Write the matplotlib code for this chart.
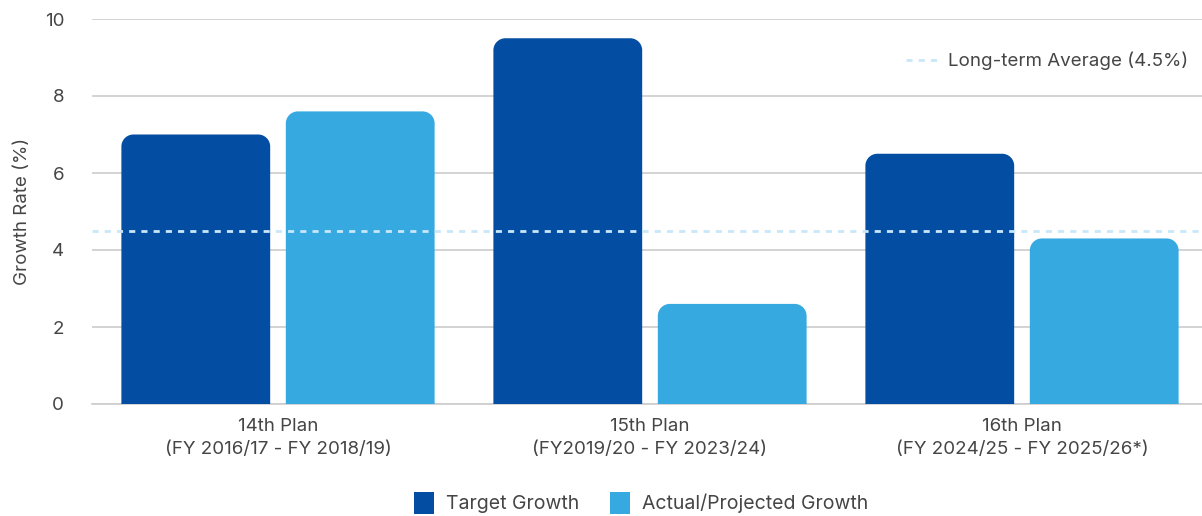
import matplotlib
matplotlib.use("Agg")
import matplotlib.pyplot as plt
from matplotlib.path import Path
from matplotlib.patches import PathPatch
from matplotlib.lines import Line2D
from matplotlib.patches import Patch
import numpy as np

# Data
plans = ["14th Plan\n(FY 2016/17 - FY 2018/19)",
         "15th Plan\n(FY2019/20 - FY 2023/24)",
         "16th Plan\n(FY 2024/25 - FY 2025/26*)"]
target_growth = [7.0, 9.5, 6.5]
actual_growth = [7.6, 2.6, 4.3]
long_term_avg = 4.5

C_TARGET = "#034EA2"
C_ACTUAL = "#36A9E1"
C_AVG = "#C9E7F8"
C_TEXT = "#454545"
C_GRID = "#CCCCCC"
FS = 13.5

plt.rcParams["font.family"] = ["Inter", "DejaVu Sans"]

W, H, DPI = 1202, 516, 100
fig = plt.figure(figsize=(W / DPI, H / DPI), dpi=DPI)
ax_left, ax_right, ax_top, ax_bot = 92, 1208, 19, 404
ax = fig.add_axes([ax_left / W, 1 - ax_bot / H, (ax_right - ax_left) / W, (ax_bot - ax_top) / H])

ax.set_xlim(-0.5, 2.5)
ax.set_ylim(0, 10)

x = np.arange(len(plans))
bw = 0.40
off = 0.221

# pixel scale for rounded corners
px_per_x = (ax_right - ax_left) / 3.0
px_per_y = (ax_bot - ax_top) / 10.0
r_px = 12
rx, ry = r_px / px_per_x, r_px / px_per_y
k = 0.5523


def rounded_bar(x0, w, h, color):
    x1 = x0 + w
    ryy = min(ry, h)
    verts = [
        (x0, 0), (x0, h - ryy),
        (x0, h - ryy + k * ryy), (x0 + rx - k * rx, h), (x0 + rx, h),
        (x1 - rx, h),
        (x1 - rx + k * rx, h), (x1, h - ryy + k * ryy), (x1, h - ryy),
        (x1, 0), (x0, 0),
    ]
    codes = [Path.MOVETO, Path.LINETO,
             Path.CURVE4, Path.CURVE4, Path.CURVE4,
             Path.LINETO,
             Path.CURVE4, Path.CURVE4, Path.CURVE4,
             Path.LINETO, Path.CLOSEPOLY]
    ax.add_patch(PathPatch(Path(verts, codes), facecolor=color, edgecolor="none", zorder=2))


# bars via ax.bar geometry, drawn with rounded tops
b1 = ax.bar(x - off, target_growth, bw, color=C_TARGET, zorder=2)
b2 = ax.bar(x + off, actual_growth, bw, color=C_ACTUAL, zorder=2)
for bars, c in ((b1, C_TARGET), (b2, C_ACTUAL)):
    for r in bars:
        rounded_bar(r.get_x(), r.get_width(), r.get_height(), c)
        r.set_visible(False)

# average line
ax.axhline(long_term_avg, color=C_AVG, lw=2, ls=(0, (2.2, 2.2)), zorder=3)

# grid
ax.set_yticks([0, 2, 4, 6, 8, 10])
ax.yaxis.grid(True, color=C_GRID, lw=1.2, zorder=0)
ax.set_axisbelow(True)
for s in ["top", "right", "left"]:
    ax.spines[s].set_visible(False)
ax.spines["bottom"].set_color(C_GRID)
ax.spines["bottom"].set_linewidth(1.2)
ax.spines["bottom"].set_zorder(1)

ax.set_xticks(x)
ax.set_xticklabels(plans, linespacing=1.5)
ax.tick_params(axis="both", length=0, colors=C_TEXT, labelsize=FS)
ax.tick_params(axis="y", pad=20)
ax.tick_params(axis="x", pad=10)
ax.set_ylabel("Growth Rate (%)", color=C_TEXT, fontsize=FS, labelpad=10)

# legend for average line (upper right)
avg_handle = Line2D([0], [0], color=C_AVG, lw=2, ls=(0, (2.2, 2.2)))
fig.legend([avg_handle], ["Long-term Average (4.5%)"], loc="center right",
           bbox_to_anchor=(1188 / W, 1 - 61 / H), frameon=False, fontsize=FS,
           borderpad=0, borderaxespad=0,
           handlelength=1.75, handletextpad=0.5, labelcolor=C_TEXT)

# bottom legend
handles = [Patch(facecolor=C_TARGET), Patch(facecolor=C_ACTUAL)]
fig.legend(handles, ["Target Growth", "Actual/Projected Growth"], loc="center",
           bbox_to_anchor=(641 / W, 1 - 503 / H), ncol=2,
           frameon=False, fontsize=14, handlelength=1.05, handleheight=1.35,
           borderpad=0, handletextpad=0.6, columnspacing=1.6, labelcolor=C_TEXT)

fig.savefig("out.png", dpi=DPI)
